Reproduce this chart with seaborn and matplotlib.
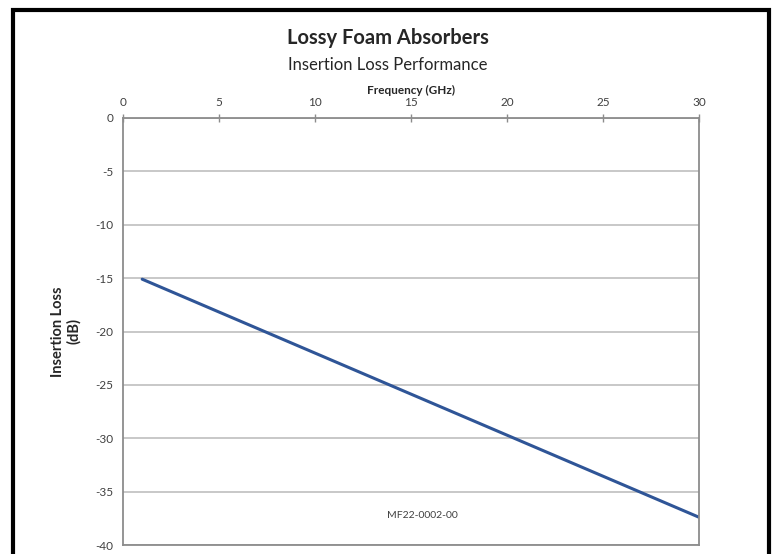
import seaborn as sns
import matplotlib.pyplot as plt
import pandas as pd
from matplotlib.patches import Rectangle

# data
frequency_ghz = [1, 30]
insertion_loss_db = [-15.1, -37.4]
x_ticks = [0, 5, 10, 15, 20, 25, 30]
y_ticks = [0, -5, -10, -15, -20, -25, -30, -35, -40]
part_number = "MF22-0002-00"

sns.set_style("white")
plt.rcParams["font.family"] = ["Lato", "DejaVu Sans"]
plt.rcParams["axes.unicode_minus"] = False

df = pd.DataFrame({"freq": frequency_ghz, "loss": insertion_loss_db})

fig = plt.figure(figsize=(7.76, 5.54), dpi=100)
ax = fig.add_axes([123 / 776, 9 / 554, 576 / 776, 427 / 554])

sns.lineplot(data=df, x="freq", y="loss", ax=ax, color="#2f5597", linewidth=2.2)

ax.set_xlim(0, 30)
ax.set_ylim(-40, 0)
ax.set_xticks(x_ticks)
ax.set_yticks(y_ticks)
ax.xaxis.tick_top()
ax.xaxis.set_label_position("top")
ax.tick_params(axis="both", direction="inout", length=6, width=1,
               color="#8c8c8c", labelsize=8.5, labelcolor="#404040", pad=4)
ax.grid(axis="y", color="#bfbfbf", linewidth=1.2)
ax.set_axisbelow(True)
for side in ["top", "bottom", "left", "right"]:
    ax.spines[side].set_visible(True)
    ax.spines[side].set_color("#8c8c8c")
    ax.spines[side].set_linewidth(1.3)

ax.set_xlabel("Frequency (GHz)", fontsize=8.5, fontweight="bold", labelpad=2)
ax.set_ylabel("Insertion Loss\n(dB)", fontsize=10.5, fontweight="bold",
              labelpad=10, linespacing=1.15)

ax.text(15.6, -37.2, part_number, fontsize=7.5, color="#404040",
        ha="center", va="center")

fig.text(0.5, 1 - 38 / 554, "Lossy Foam Absorbers", ha="center", va="center",
         fontsize=14.5, fontweight="bold")
fig.text(0.5, 1 - 65 / 554, "Insertion Loss Performance", ha="center",
         va="center", fontsize=12)

# black frame around the chart
fig.patches.append(Rectangle((13 / 776, -0.1), 755.5 / 776, 1.1 - 10 / 554,
                             transform=fig.transFigure, fill=False,
                             edgecolor="black", linewidth=3, zorder=10))

fig.savefig("out.png", dpi=100)
